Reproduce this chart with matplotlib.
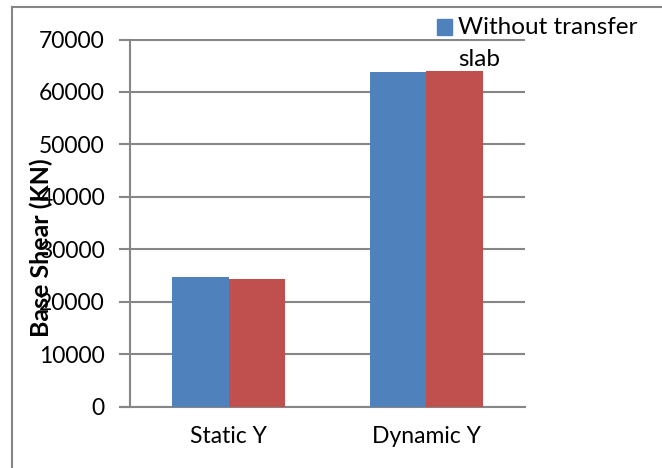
import numpy as np
import matplotlib.pyplot as plt
from matplotlib.patches import Rectangle

# data
categories = ["Static Y", "Dynamic Y"]
without_slab = [24700, 63800]
with_slab = [24300, 64050]
yticks = [0, 10000, 20000, 30000, 40000, 50000, 60000, 70000]
legend_label = ["Without transfer", "slab"]

plt.rcParams['font.family'] = ['Lato', 'DejaVu Sans']

W, H = 662, 468
fig = plt.figure(figsize=(W / 100, H / 100), dpi=100)
ax = fig.add_axes([130 / W, (H - 406.7) / H, 395 / W, 367.2 / H])

x = np.arange(len(categories))
bw = 0.286
ax.bar(x - bw / 2, without_slab, bw, color='#4F81BD', zorder=3)
ax.bar(x + bw / 2, with_slab, bw, color='#C0504D', zorder=3)

grey = '#868686'
ax.set_xlim(-0.5, 1.5)
ax.set_ylim(0, 70000)
ax.set_yticks(yticks)
ax.set_yticklabels([str(v) for v in yticks])
ax.set_xticks(x)
ax.set_xticklabels(categories)
ax.grid(axis='y', color=grey, linewidth=1.5, zorder=0)
ax.tick_params(axis='y', length=8, width=1.5, color=grey, labelsize=16.5, pad=10)
ax.tick_params(axis='x', length=0, labelsize=16.5, pad=14)
for s in ['top', 'right']:
    ax.spines[s].set_visible(False)
for s in ['left', 'bottom']:
    ax.spines[s].set_color(grey)
    ax.spines[s].set_linewidth(1.5)
ax.spines['bottom'].set_bounds(-0.54, 1.5)

fig.text(41 / W, 1 - 248 / H, "Base Shear (KN)", rotation=90, fontsize=18,
         fontweight='bold', ha='center', va='center')

# legend (only the first series shows, text wraps)
fig.add_artist(Rectangle((437 / W, 1 - 35 / H), 15 / W, 16 / H, color='#4F81BD',
                         transform=fig.transFigure))
fig.text(458 / W, 1 - 27 / H, legend_label[0], fontsize=17.5, ha='left', va='center')
fig.text(458 / W, 1 - 60 / H, legend_label[1], fontsize=17.5, ha='left', va='center')

# frame of the chart area (cropped on right and bottom)
fig.add_artist(plt.Line2D([12 / W, 12 / W], [0, 1 - 7 / H], color=grey, linewidth=1.5))
fig.add_artist(plt.Line2D([12 / W, 1], [1 - 7 / H, 1 - 7 / H], color=grey, linewidth=1.5))

fig.savefig('out.png', dpi=100)
